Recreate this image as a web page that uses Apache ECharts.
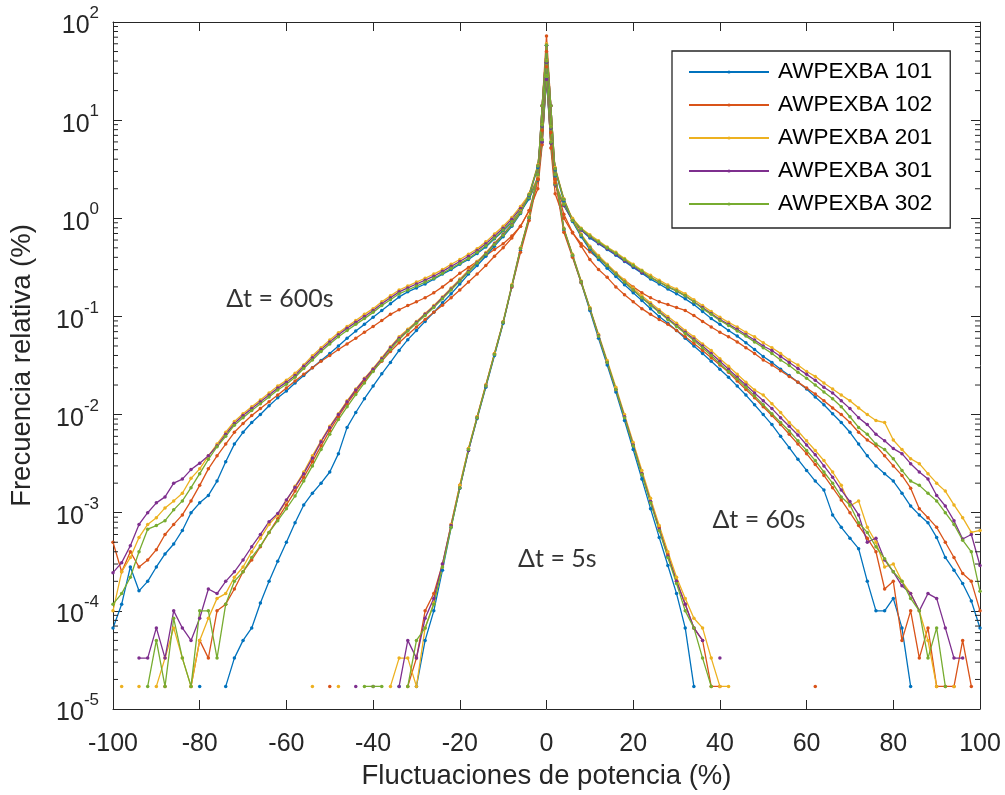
<!DOCTYPE html>
<html>
<head>
<meta charset="utf-8">
<script src="https://cdn.jsdelivr.net/npm/echarts@6/dist/echarts.min.js"></script>
<style>
  html, body { margin: 0; background: #fff; }
  #chart { width: 1005px; height: 795px; }
</style>
</head>
<body>
<div id="chart"></div>
<script>
const _ = null;

const turbines = ['AWPEXBA 101', 'AWPEXBA 102', 'AWPEXBA 201', 'AWPEXBA 301', 'AWPEXBA 302'];
const colors = ['#0072BD', '#D95319', '#EDB120', '#7E2F8E', '#77AC30'];

// fluctuation (%) at which every curve is sampled
const xs = [
  -100, -98, -96, -94, -92, -90, -88, -86, -84, -82,
  -80, -78, -76, -74, -72, -70, -68, -66, -64, -62,
  -60, -58, -56, -54, -52, -50, -48, -46, -44, -42,
  -40, -38, -36, -34, -32, -30, -28, -26, -24, -22,
  -20, -18, -16, -14, -12, -10, -8, -6, -4, -2,
  -1, 0, 1,
  2, 4, 6, 8, 10, 12, 14, 16, 18, 20,
  22, 24, 26, 28, 30, 32, 34, 36, 38, 40,
  42, 44, 46, 48, 50, 52, 54, 56, 58, 60,
  62, 64, 66, 68, 70, 72, 74, 76, 78, 80,
  82, 84, 86, 88, 90, 92, 94, 96, 98, 100
];

// dt = 600 s
const v600_101 = [
  6.7e-5, 1.17e-4, 2.8e-4, 1.6e-4, 2.0e-4, 2.8e-4, 3.8e-4, 4.8e-4, 6.6e-4, 1.0e-3,
  1.26e-3, 1.5e-3, 2.1e-3, 3.3e-3, 5.0e-3, 6.6e-3, 8.3e-3, 1.0e-2, 1.23e-2, 1.48e-2,
  1.74e-2, 2.1e-2, 2.5e-2, 3.0e-2, 3.55e-2, 4.2e-2, 5.0e-2, 6.0e-2, 7.1e-2, 8.3e-2,
  9.8e-2, 0.115, 0.135, 0.158, 0.178, 0.195, 0.214, 0.24, 0.27, 0.30,
  0.34, 0.38, 0.437, 0.51, 0.62, 0.74, 0.91, 1.17, 1.58, 2.45,
  6.0, 27, 5.9,
  2.2, 1.35, 0.95, 0.76, 0.63, 0.55, 0.48, 0.42, 0.363, 0.316,
  0.275, 0.24, 0.214, 0.19, 0.17, 0.151, 0.132, 0.112, 9.5e-2, 8.3e-2,
  7.2e-2, 6.3e-2, 5.4e-2, 4.6e-2, 3.9e-2, 3.4e-2, 2.9e-2, 2.5e-2, 2.14e-2, 1.82e-2,
  1.51e-2, 1.26e-2, 1.02e-2, 8.3e-3, 6.6e-3, 5.0e-3, 3.8e-3, 3.0e-3, 2.5e-3, 2.1e-3,
  1.58e-3, 1.17e-3, 9.5e-4, 7.9e-4, 5.6e-4, 3.5e-4, 2.6e-4, 1.9e-4, 1.26e-4, 6.7e-5
];
const v600_102 = [
  5.0e-4, 2.5e-4, 4.0e-4, 2.8e-4, 3.3e-4, 4.2e-4, 6.0e-4, 7.6e-4, 9.5e-4, 1.32e-3,
  1.9e-3, 2.8e-3, 3.8e-3, 5.0e-3, 6.6e-3, 8.1e-3, 9.8e-3, 1.15e-2, 1.35e-2, 1.58e-2,
  1.86e-2, 2.2e-2, 2.57e-2, 3.0e-2, 3.5e-2, 4.0e-2, 4.6e-2, 5.25e-2, 6.0e-2, 6.9e-2,
  7.9e-2, 9.1e-2, 0.105, 0.117, 0.129, 0.141, 0.155, 0.174, 0.20, 0.234,
  0.275, 0.316, 0.363, 0.417, 0.48, 0.55, 0.66, 0.83, 1.2, 2.0,
  5.6, 35, 5.2,
  1.78, 1.0, 0.71, 0.55, 0.457, 0.39, 0.33, 0.275, 0.234, 0.2,
  0.174, 0.155, 0.141, 0.132, 0.123, 0.115, 0.102, 8.9e-2, 7.8e-2, 6.9e-2,
  6.2e-2, 5.5e-2, 4.8e-2, 4.2e-2, 3.6e-2, 3.2e-2, 2.8e-2, 2.45e-2, 2.14e-2, 1.86e-2,
  1.62e-2, 1.38e-2, 1.17e-2, 1.0e-2, 8.3e-3, 6.6e-3, 5.5e-3, 4.8e-3, 3.8e-3, 3.0e-3,
  2.4e-3, 1.78e-3, 1.1e-3, 8.9e-4, 7.1e-4, 5.0e-4, 3.5e-4, 2.4e-4, 2.0e-4, 1.0e-4
];
const v600_201 = [
  1.0e-4, 2.5e-4, 3.5e-4, 5.6e-4, 7.6e-4, 8.9e-4, 1.12e-3, 1.32e-3, 1.58e-3, 2.24e-3,
  2.8e-3, 3.8e-3, 5.0e-3, 6.6e-3, 8.5e-3, 1.02e-2, 1.2e-2, 1.41e-2, 1.66e-2, 1.95e-2,
  2.24e-2, 2.63e-2, 3.2e-2, 3.98e-2, 4.8e-2, 5.75e-2, 6.8e-2, 7.9e-2, 9.1e-2, 0.105,
  0.12, 0.141, 0.162, 0.186, 0.204, 0.224, 0.245, 0.27, 0.30, 0.34,
  0.38, 0.43, 0.49, 0.575, 0.69, 0.83, 1.02, 1.32, 1.74, 2.6,
  6.3, 28, 6.0,
  2.3, 1.41, 1.0, 0.79, 0.68, 0.59, 0.51, 0.45, 0.39, 0.34,
  0.295, 0.263, 0.234, 0.209, 0.19, 0.17, 0.148, 0.129, 0.112, 9.8e-2,
  8.7e-2, 7.8e-2, 6.9e-2, 6.2e-2, 5.4e-2, 4.8e-2, 4.2e-2, 3.6e-2, 3.2e-2, 2.75e-2,
  2.45e-2, 2.1e-2, 1.82e-2, 1.58e-2, 1.38e-2, 1.17e-2, 1.0e-2, 8.7e-3, 8.3e-3, 5.5e-3,
  4.4e-3, 3.55e-3, 3.16e-3, 2.5e-3, 2.0e-3, 1.66e-3, 1.2e-3, 8.9e-4, 6.3e-4, 6.6e-4
];
const v600_301 = [
  2.45e-4, 3.1e-4, 4.6e-4, 7.6e-4, 1.0e-3, 1.26e-3, 1.45e-3, 2.0e-3, 2.2e-3, 2.75e-3,
  3.2e-3, 3.8e-3, 4.8e-3, 6.3e-3, 8.1e-3, 9.8e-3, 1.15e-2, 1.35e-2, 1.58e-2, 1.86e-2,
  2.14e-2, 2.5e-2, 3.1e-2, 3.8e-2, 4.6e-2, 5.5e-2, 6.5e-2, 7.6e-2, 8.7e-2, 0.1,
  0.115, 0.135, 0.155, 0.178, 0.195, 0.214, 0.234, 0.257, 0.288, 0.324,
  0.363, 0.41, 0.47, 0.55, 0.66, 0.79, 0.98, 1.26, 1.66, 2.5,
  6.0, 26, 5.8,
  2.2, 1.35, 0.95, 0.76, 0.65, 0.56, 0.49, 0.43, 0.37, 0.324,
  0.28, 0.25, 0.224, 0.2, 0.182, 0.162, 0.141, 0.123, 0.107, 9.3e-2,
  8.3e-2, 7.4e-2, 6.5e-2, 5.75e-2, 5.0e-2, 4.5e-2, 3.9e-2, 3.4e-2, 2.95e-2, 2.57e-2,
  2.24e-2, 1.9e-2, 1.66e-2, 1.38e-2, 1.15e-2, 9.3e-3, 7.9e-3, 6.3e-3, 5.4e-3, 4.5e-3,
  4.0e-3, 3.16e-3, 2.6e-3, 2.2e-3, 1.5e-3, 1.17e-3, 8.3e-4, 5.4e-4, 6.0e-4, 2.9e-4
];
const v600_302 = [
  1.17e-4, 1.5e-4, 2.2e-4, 4.0e-4, 6.8e-4, 7.4e-4, 8.3e-4, 1.07e-3, 1.32e-3, 1.8e-3,
  2.5e-3, 3.5e-3, 4.7e-3, 6.0e-3, 7.8e-3, 9.3e-3, 1.1e-2, 1.29e-2, 1.51e-2, 1.78e-2,
  2.04e-2, 2.4e-2, 2.95e-2, 3.6e-2, 4.4e-2, 5.25e-2, 6.2e-2, 7.2e-2, 8.3e-2, 9.5e-2,
  0.11, 0.129, 0.148, 0.17, 0.186, 0.204, 0.224, 0.245, 0.275, 0.31,
  0.347, 0.39, 0.45, 0.525, 0.63, 0.76, 0.93, 1.2, 1.62, 2.5,
  6.3, 28, 6.0,
  2.24, 1.38, 0.98, 0.78, 0.66, 0.575, 0.5, 0.44, 0.38, 0.33,
  0.29, 0.25, 0.224, 0.2, 0.182, 0.162, 0.141, 0.12, 0.105, 9.1e-2,
  8.1e-2, 7.1e-2, 6.3e-2, 5.5e-2, 4.8e-2, 4.2e-2, 3.6e-2, 3.16e-2, 2.7e-2, 2.34e-2,
  2.0e-2, 1.7e-2, 1.45e-2, 1.2e-2, 9.5e-3, 7.4e-3, 6.3e-3, 5.0e-3, 4.4e-3, 3.55e-3,
  2.7e-3, 2.1e-3, 1.9e-3, 1.58e-3, 1.32e-3, 1.0e-3, 7.6e-4, 5.25e-4, 4.0e-4, 1.58e-4
];

// dt = 60 s
const v60_101 = [
  _, _, _, _, _, _, _, _, _, _,
  1.7e-5, _, _, 1.7e-5, 3.3e-5, 5.0e-5, 6.7e-5, 1.2e-4, 2.0e-4, 3.2e-4,
  5.0e-4, 7.9e-4, 1.2e-3, 1.58e-3, 2.0e-3, 2.6e-3, 4.0e-3, 7.4e-3, 1.05e-2, 1.45e-2,
  1.95e-2, 2.6e-2, 3.4e-2, 4.5e-2, 5.8e-2, 7.2e-2, 8.9e-2, 0.11, 0.138, 0.17,
  0.214, 0.27, 0.33, 0.41, 0.52, 0.65, 0.83, 1.12, 1.7, 3.3,
  8.7, 39, 8.3,
  3.1, 1.5, 0.93, 0.65, 0.48, 0.38, 0.31, 0.255, 0.21, 0.174,
  0.145, 0.12, 0.10, 8.5e-2, 7.2e-2, 6.0e-2, 5.0e-2, 4.2e-2, 3.5e-2, 2.9e-2,
  2.4e-2, 1.95e-2, 1.58e-2, 1.26e-2, 1.0e-2, 7.9e-3, 6.0e-3, 4.6e-3, 3.5e-3, 2.7e-3,
  2.1e-3, 1.7e-3, 9.5e-4, 7.1e-4, 5.5e-4, 4.3e-4, 2.0e-4, 1.0e-4, 1.0e-4, 1.34e-4,
  6.7e-5, 1.7e-5, _, _, _, _, _, _, _, _
];
const v60_102 = [
  _, _, _, _, _, _, 1.7e-5, _, _, 1.7e-5,
  5.0e-5, 3.3e-5, 1.0e-4, 1.17e-4, 1.67e-4, 2.5e-4, 3.3e-4, 4.5e-4, 6.3e-4, 8.7e-4,
  1.2e-3, 1.66e-3, 2.3e-3, 3.3e-3, 4.8e-3, 6.9e-3, 9.5e-3, 1.29e-2, 1.7e-2, 2.2e-2,
  2.8e-2, 3.5e-2, 4.4e-2, 5.4e-2, 6.5e-2, 7.8e-2, 9.3e-2, 0.11, 0.13, 0.155,
  0.186, 0.224, 0.27, 0.33, 0.41, 0.50, 0.63, 0.83, 1.2, 2.5,
  7.9, 50, 7.5,
  2.3, 1.1, 0.72, 0.52, 0.38, 0.30, 0.25, 0.20, 0.166, 0.141,
  0.12, 0.105, 9.3e-2, 8.3e-2, 7.2e-2, 6.2e-2, 5.3e-2, 4.5e-2, 3.8e-2, 3.2e-2,
  2.7e-2, 2.2e-2, 1.8e-2, 1.48e-2, 1.2e-2, 9.8e-3, 7.9e-3, 6.3e-3, 5.0e-3, 4.0e-3,
  3.1e-3, 2.4e-3, 1.8e-3, 1.35e-3, 1.0e-3, 7.4e-4, 5.5e-4, 4.0e-4, 1.67e-4, 2.0e-4,
  5.0e-5, 1.0e-4, 3.3e-5, 6.7e-5, 1.7e-5, 1.7e-5, 1.7e-5, 5.0e-5, 1.7e-5, _
];
const v60_201 = [
  _, 1.7e-5, _, 1.7e-5, _, 1.7e-5, 3.3e-5, 6.7e-5, 3.3e-5, 1.7e-5,
  5.0e-5, 8.4e-5, 1.34e-4, 1.5e-4, 2.2e-4, 2.8e-4, 4.0e-4, 5.5e-4, 7.6e-4, 9.5e-4,
  1.32e-3, 1.86e-3, 2.6e-3, 3.8e-3, 5.4e-3, 7.6e-3, 1.02e-2, 1.38e-2, 1.82e-2, 2.34e-2,
  2.95e-2, 3.8e-2, 4.9e-2, 6.2e-2, 7.4e-2, 8.9e-2, 0.107, 0.129, 0.158, 0.195,
  0.24, 0.295, 0.363, 0.447, 0.56, 0.69, 0.87, 1.17, 1.78, 3.5,
  8.9, 40, 8.5,
  3.3, 1.58, 0.98, 0.69, 0.52, 0.417, 0.34, 0.28, 0.234, 0.195,
  0.162, 0.138, 0.117, 0.1, 8.5e-2, 7.2e-2, 6.2e-2, 5.25e-2, 4.5e-2, 3.7e-2,
  3.1e-2, 2.57e-2, 2.14e-2, 1.78e-2, 1.58e-2, 1.29e-2, 1.05e-2, 8.3e-3, 6.8e-3, 5.4e-3,
  4.3e-3, 3.4e-3, 2.6e-3, 1.9e-3, 1.17e-3, 1.32e-3, 7.1e-4, 5.0e-4, 2.8e-4, 3.0e-4,
  2.0e-4, 1.5e-4, 1.0e-4, 5.0e-5, 1.7e-5, _, 1.7e-5, _, _, _
];
const v60_301 = [
  _, _, _, 3.3e-5, 3.3e-5, 6.7e-5, 3.3e-5, 1.0e-4, 6.7e-5, 5.0e-5,
  8.4e-5, 1.67e-4, 1.5e-4, 2.0e-4, 2.5e-4, 3.3e-4, 4.5e-4, 6.0e-4, 8.1e-4, 9.8e-4,
  1.35e-3, 1.82e-3, 2.5e-3, 3.6e-3, 5.3e-3, 7.4e-3, 1.0e-2, 1.35e-2, 1.78e-2, 2.3e-2,
  2.9e-2, 3.7e-2, 4.8e-2, 6.0e-2, 7.2e-2, 8.7e-2, 0.105, 0.126, 0.155, 0.19,
  0.234, 0.288, 0.355, 0.437, 0.55, 0.68, 0.86, 1.15, 1.74, 3.4,
  8.7, 39, 8.3,
  3.2, 1.55, 0.95, 0.67, 0.5, 0.40, 0.33, 0.27, 0.224, 0.186,
  0.155, 0.132, 0.112, 9.5e-2, 8.1e-2, 6.9e-2, 5.9e-2, 5.0e-2, 4.2e-2, 3.5e-2,
  2.9e-2, 2.4e-2, 2.0e-2, 1.66e-2, 1.38e-2, 1.15e-2, 9.3e-3, 7.6e-3, 6.2e-3, 4.9e-3,
  3.9e-3, 3.0e-3, 2.3e-3, 1.7e-3, 1.3e-3, 9.5e-4, 5.0e-4, 5.5e-4, 3.3e-4, 2.5e-4,
  1.8e-4, 1.5e-4, 1.0e-4, 1.5e-4, 1.34e-4, 6.7e-5, 3.3e-5, 3.3e-5, _, _
];
const v60_302 = [
  _, _, _, _, 1.7e-5, 5.0e-5, 1.7e-5, 8.4e-5, 3.3e-5, 1.7e-5,
  1.0e-4, 1.0e-4, 3.3e-5, 1.17e-4, 2.0e-4, 2.5e-4, 3.5e-4, 4.6e-4, 6.3e-4, 8.3e-4,
  1.1e-3, 1.48e-3, 2.1e-3, 3.0e-3, 4.4e-3, 6.3e-3, 8.9e-3, 1.2e-2, 1.6e-2, 2.1e-2,
  2.75e-2, 3.55e-2, 4.6e-2, 5.8e-2, 7.1e-2, 8.5e-2, 0.102, 0.123, 0.151, 0.186,
  0.229, 0.282, 0.35, 0.43, 0.54, 0.67, 0.85, 1.14, 1.74, 3.4,
  8.9, 40, 8.5,
  3.2, 1.55, 0.95, 0.67, 0.5, 0.40, 0.33, 0.27, 0.224, 0.186,
  0.155, 0.13, 0.11, 9.3e-2, 7.9e-2, 6.7e-2, 5.7e-2, 4.8e-2, 4.0e-2, 3.3e-2,
  2.75e-2, 2.3e-2, 1.9e-2, 1.55e-2, 1.26e-2, 1.02e-2, 8.3e-3, 6.8e-3, 5.4e-3, 4.3e-3,
  3.4e-3, 2.6e-3, 2.0e-3, 1.45e-3, 1.2e-3, 7.9e-4, 6.3e-4, 4.5e-4, 3.4e-4, 2.5e-4,
  2.0e-4, 1.34e-4, 1.0e-4, 3.3e-5, 6.7e-5, 1.7e-5, _, _, _, _
];

// dt = 5 s
const v5_101 = [
  _, _, _, _, _, _, _, _, _, _,
  _, _, _, _, _, _, _, _, _, _,
  _, _, _, _, _, _, _, _, _, _,
  _, _, _, 1.7e-5, _, 1.7e-5, 5.0e-5, 1.0e-4, 2.6e-4, 7.1e-4,
  1.78e-3, 4.3e-3, 9.1e-3, 1.9e-2, 4.0e-2, 8.5e-2, 0.2, 0.47, 1.0, 2.8,
  14, 58, 14,
  2.7, 0.76, 0.41, 0.22, 0.115, 6.0e-2, 3.2e-2, 1.7e-2, 8.7e-3, 4.4e-3,
  2.2e-3, 1.1e-3, 5.6e-4, 2.9e-4, 1.5e-4, 6.7e-5, 1.7e-5, _, _, _,
  _, _, _, _, _, _, _, _, _, _,
  _, _, _, _, _, _, _, _, _, _,
  _, _, _, _, _, _, _, _, _, _
];
const v5_102 = [
  _, _, _, _, _, _, _, _, _, _,
  _, _, _, _, _, _, _, _, _, _,
  _, _, _, _, _, 1.7e-5, _, _, _, _,
  _, _, _, _, 1.7e-5, 3.3e-5, 1.0e-4, 1.5e-4, 3.0e-4, 7.6e-4,
  1.9e-3, 4.5e-3, 9.5e-3, 2.0e-2, 4.2e-2, 8.7e-2, 0.2, 0.45, 0.95, 2.5,
  14, 72, 14,
  2.5, 0.72, 0.40, 0.22, 0.12, 6.3e-2, 3.4e-2, 1.8e-2, 9.5e-3, 4.9e-3,
  2.5e-3, 1.3e-3, 7.1e-4, 3.8e-4, 2.0e-4, 1.17e-4, 6.7e-5, 5.0e-5, 1.7e-5, 1.7e-5,
  _, _, _, _, _, _, _, _, _, _,
  1.7e-5, _, _, _, _, _, _, _, _, _,
  _, _, _, _, _, _, _, _, _, _
];
const v5_201 = [
  _, _, _, _, _, _, _, _, _, _,
  _, _, _, _, _, _, _, _, _, _,
  _, _, _, 1.7e-5, _, _, 1.7e-5, _, _, _,
  _, _, 1.7e-5, 3.3e-5, 3.3e-5, 1.7e-5, 6.7e-5, 1.2e-4, 2.8e-4, 7.6e-4,
  1.9e-3, 4.5e-3, 9.5e-3, 2.0e-2, 4.2e-2, 8.9e-2, 0.21, 0.5, 1.05, 2.8,
  14, 60, 14,
  2.8, 0.79, 0.43, 0.23, 0.123, 6.6e-2, 3.55e-2, 1.9e-2, 1.0e-2, 5.2e-3,
  2.7e-3, 1.4e-3, 7.4e-4, 4.0e-4, 2.2e-4, 1.34e-4, 8.4e-5, 6.7e-5, 3.3e-5, 1.7e-5,
  1.7e-5, _, _, _, _, _, _, _, _, _,
  _, _, _, _, _, _, _, _, _, _,
  _, _, _, _, _, _, _, _, _, _
];
const v5_301 = [
  _, _, _, _, _, _, _, _, _, _,
  _, _, _, _, _, _, _, _, _, _,
  _, _, _, _, _, _, _, _, 1.7e-5, _,
  1.7e-5, _, _, 1.7e-5, 5.0e-5, 3.3e-5, 8.4e-5, 1.34e-4, 3.0e-4, 7.4e-4,
  1.8e-3, 4.3e-3, 9.3e-3, 1.95e-2, 4.1e-2, 8.7e-2, 0.205, 0.49, 1.02, 2.8,
  14, 58, 14,
  2.8, 0.78, 0.42, 0.225, 0.12, 6.4e-2, 3.4e-2, 1.8e-2, 9.5e-3, 4.9e-3,
  2.5e-3, 1.3e-3, 6.8e-4, 3.6e-4, 2.0e-4, 1.17e-4, 6.7e-5, 5.0e-5, _, 3.3e-5,
  _, _, _, _, _, _, _, _, _, _,
  _, _, _, _, _, _, _, _, _, _,
  _, _, _, _, _, _, _, _, _, _
];
const v5_302 = [
  _, _, _, _, _, _, _, _, _, _,
  _, _, _, _, _, _, _, _, _, _,
  _, _, _, _, _, _, _, _, _, 1.7e-5,
  1.7e-5, 1.7e-5, _, _, 1.7e-5, 5.0e-5, 6.7e-5, 1.17e-4, 2.8e-4, 7.1e-4,
  1.8e-3, 4.4e-3, 9.3e-3, 1.95e-2, 4.1e-2, 8.7e-2, 0.205, 0.49, 1.02, 2.8,
  14, 58, 14,
  2.8, 0.78, 0.42, 0.224, 0.12, 6.3e-2, 3.4e-2, 1.8e-2, 9.3e-3, 4.8e-3,
  2.45e-3, 1.26e-3, 6.6e-4, 3.5e-4, 1.9e-4, 1.0e-4, 6.7e-5, 3.3e-5, 1.7e-5, _,
  _, _, _, _, _, _, _, _, _, _,
  _, _, _, _, _, _, _, _, _, _,
  _, _, _, _, _, _, _, _, _, _
];

const noteX = [-61.5, 49, 2.5];
const noteY = [0.15, 8.5e-4, 3.4e-4];
const noteText = ['Δt = 600s', 'Δt = 60s', 'Δt = 5s'];

const groups = [
  [v600_101, v600_102, v600_201, v600_301, v600_302],
  [v60_101, v60_102, v60_201, v60_301, v60_302],
  [v5_101, v5_102, v5_201, v5_301, v5_302]
];

const minorTicks = [];
for (let e = -5; e < 2; e++) {
  for (let m = 2; m < 10; m++) minorTicks.push(m * Math.pow(10, e));
}

const axisColor = '#262626';
const font = 'Liberation Sans, Arial, Helvetica, sans-serif';

const series = [];
groups.forEach(group => {
  group.forEach((vals, k) => {
    series.push({
      name: turbines[k],
      type: 'line',
      data: xs.map((x, i) => [x, vals[i]]),
      symbol: 'circle',
      symbolSize: 3.5,
      showSymbol: true,
      connectNulls: false,
      lineStyle: { width: 1.3, color: colors[k] },
      itemStyle: { color: colors[k] },
      emphasis: { disabled: true }
    });
  });
});

// log-scale minor ticks on the left and right edges
series.push({
  type: 'custom',
  silent: true,
  z: 10,
  data: minorTicks.map(v => [-100, v]),
  renderItem: (params, api) => {
    const a = api.coord([-100, api.value(1)]);
    const b = api.coord([100, api.value(1)]);
    const st = { stroke: axisColor, lineWidth: 1 };
    return {
      type: 'group',
      children: [
        { type: 'line', shape: { x1: a[0], y1: a[1], x2: a[0] + 5, y2: a[1] }, style: st },
        { type: 'line', shape: { x1: b[0] - 5, y1: b[1], x2: b[0], y2: b[1] }, style: st }
      ]
    };
  }
});

series.push({
  type: 'scatter',
  silent: true,
  symbolSize: 0,
  z: 11,
  data: noteX.map((x, i) => ({
    value: [x, noteY[i]],
    label: {
      show: true, position: 'inside', formatter: noteText[i],
      fontFamily: 'Lato, Open Sans, sans-serif', fontSize: 25, color: '#000'
    }
  }))
});

const xAxisBase = {
  type: 'value', min: -100, max: 100, interval: 20,
  axisLine: { show: true, onZero: false, lineStyle: { color: axisColor, width: 1 } },
  axisTick: { show: true, inside: true, length: 9, lineStyle: { color: axisColor } },
  splitLine: { show: false }
};
const yAxisBase = {
  type: 'log', logBase: 10, min: 1e-5, max: 1e2, splitNumber: 7,
  axisLine: { show: true, onZero: false, lineStyle: { color: axisColor, width: 1 } },
  axisTick: { show: true, inside: true, length: 9, lineStyle: { color: axisColor } },
  splitLine: { show: false }
};

const chart = echarts.init(document.getElementById('chart'));
chart.setOption({
  animation: false,
  backgroundColor: '#fff',
  grid: { left: 113, right: 25, top: 22, bottom: 85 },
  legend: {
    data: turbines,
    orient: 'vertical',
    left: 672, top: 51,
    backgroundColor: '#fff',
    borderColor: axisColor, borderWidth: 1.3,
    padding: [9, 18, 12, 16],
    itemWidth: 80, itemHeight: 4, itemGap: 9,
    textStyle: { fontSize: 22.5, fontFamily: font, color: '#000', lineHeight: 24, padding: [0, 0, 0, 4] }
  },
  xAxis: [
    Object.assign({}, xAxisBase, {
      position: 'bottom',
      axisLabel: { fontSize: 25, fontFamily: font, color: axisColor, margin: 23 },
      name: 'Fluctuaciones de potencia (%)',
      nameLocation: 'middle', nameGap: 53,
      nameTextStyle: { fontSize: 27.5, fontFamily: font, color: axisColor }
    }),
    Object.assign({}, xAxisBase, { position: 'top', axisLabel: { show: false } })
  ],
  yAxis: [
    Object.assign({}, yAxisBase, {
      position: 'left',
      axisLabel: {
        margin: 14,
        formatter: v => '{b|10}{s|' + Math.round(Math.log10(v)) + '}',
        rich: {
          b: { fontSize: 25, fontFamily: font, color: axisColor, lineHeight: 34, verticalAlign: 'bottom' },
          s: { fontSize: 17, fontFamily: font, color: axisColor, lineHeight: 18, verticalAlign: 'top' }
        }
      },
      name: 'Frecuencia relativa (%)',
      nameLocation: 'middle', nameGap: 77,
      nameTextStyle: { fontSize: 27.5, fontFamily: font, color: axisColor }
    }),
    Object.assign({}, yAxisBase, { position: 'right', axisLabel: { show: false } })
  ],
  series: series
});
</script>
</body>
</html>
